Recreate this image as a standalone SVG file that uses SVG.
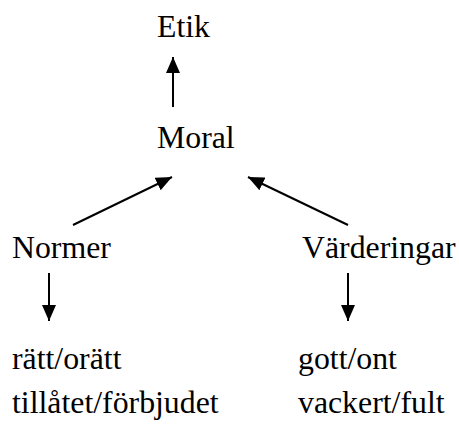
<svg xmlns="http://www.w3.org/2000/svg" width="459" height="430" viewBox="0 0 459 430">
<style>
text{font-family:"Liberation Serif","Times New Roman",serif;font-size:31.8px;fill:#000}
.c line{stroke:#000;stroke-width:2}
</style>
<defs>
<marker id="ah" markerUnits="userSpaceOnUse" markerWidth="16" markerHeight="14" refX="16" refY="7" orient="auto">
<path d="M0,0 L16,7 L0,14 Z" fill="#000"/>
</marker>
</defs>
<rect width="459" height="430" fill="#fff"/>
<g class="c">
<line x1="173" y1="107" x2="173" y2="57" marker-end="url(#ah)"/>
<line x1="73" y1="225" x2="172" y2="177" marker-end="url(#ah)"/>
<line x1="348" y1="225" x2="248" y2="177" marker-end="url(#ah)"/>
<line x1="49" y1="273" x2="49" y2="321" marker-end="url(#ah)"/>
<line x1="348" y1="273" x2="348" y2="321" marker-end="url(#ah)"/>
</g>
<g id="etik"><text x="157" y="37">Etik</text></g>
<g id="moral"><text x="157" y="148">Moral</text></g>
<g id="normer"><text x="12" y="258">Normer</text></g>
<g id="varderingar"><text x="302" y="258">Värderingar</text></g>
<g id="normer-ex"><text x="12" y="369">rätt/orätt</text><text x="12" y="413">tillåtet/förbjudet</text></g>
<g id="varderingar-ex"><text x="298" y="369">gott/ont</text><text x="298" y="413">vackert/fult</text></g>
</svg>
